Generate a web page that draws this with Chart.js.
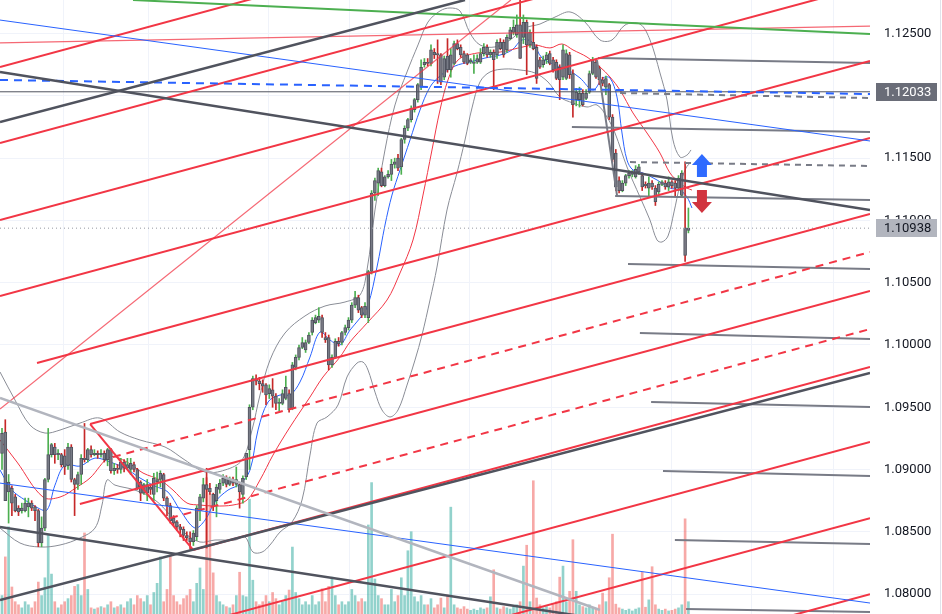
<!DOCTYPE html>
<html>
<head>
<meta charset="utf-8">
<script src="https://cdn.jsdelivr.net/npm/chart.js@4.4.1/dist/chart.umd.min.js"></script>
<style>
  html, body { margin: 0; padding: 0; background: #ffffff; overflow: hidden; }
  #wrap { width: 942px; height: 614px; position: relative; }
</style>
</head>
<body>
<div id="wrap"><canvas id="chart" width="942" height="614"></canvas></div>
<script>
// candles: [open, high, low, close]
const ohlc = [
  [1.0913,1.0933,1.0900,1.0929],[1.0930,1.0940,1.0875,1.0875],[1.0882,1.0896,1.0857,1.0890],[1.0885,1.0887,1.0863,1.0873],
  [1.0878,1.0880,1.0866,1.0867],[1.0869,1.0871,1.0863,1.0866],[1.0867,1.0873,1.0865,1.0869],[1.0867,1.0877,1.0866,1.0873],
  [1.0870,1.0877,1.0862,1.0873],[1.0873,1.0875,1.0867,1.0869],[1.0870,1.0871,1.0859,1.0867],[1.0867,1.0868,1.0838,1.0841],
  [1.0841,1.0862,1.0838,1.0853],[1.0853,1.0893,1.0851,1.0892],[1.0892,1.0933,1.0890,1.0912],[1.0912,1.0921,1.0910,1.0920],
  [1.0918,1.0921,1.0905,1.0912],[1.0912,1.0916,1.0908,1.0913],[1.0912,1.0913,1.0902,1.0904],[1.0911,1.0916,1.0896,1.0902],
  [1.0903,1.0921,1.0900,1.0918],[1.0918,1.0920,1.0890,1.0892],[1.0892,1.0893,1.0863,1.0888],[1.0888,1.0898,1.0884,1.0896],
  [1.0896,1.0912,1.0888,1.0909],[1.0909,1.0937,1.0906,1.0908],[1.0908,1.0917,1.0906,1.0916],[1.0916,1.0919,1.0910,1.0912],
  [1.0912,1.0916,1.0911,1.0913],[1.0913,1.0915,1.0909,1.0912],[1.0912,1.0916,1.0910,1.0913],[1.0913,1.0915,1.0906,1.0908],
  [1.0908,1.0917,1.0903,1.0916],[1.0916,1.0917,1.0897,1.0899],[1.0899,1.0905,1.0896,1.0901],[1.0901,1.0904,1.0897,1.0900],
  [1.0900,1.0909,1.0897,1.0906],[1.0906,1.0908,1.0898,1.0901],[1.0901,1.0909,1.0900,1.0904],[1.0900,1.0909,1.0896,1.0905],
  [1.0904,1.0906,1.0898,1.0900],[1.0900,1.0901,1.0884,1.0885],[1.0890,1.0891,1.0875,1.0881],[1.0881,1.0889,1.0880,1.0888],
  [1.0881,1.0892,1.0875,1.0888],[1.0886,1.0888,1.0880,1.0884],[1.0880,1.0897,1.0875,1.0893],[1.0890,1.0898,1.0882,1.0892],
  [1.0892,1.0899,1.0886,1.0897],[1.0896,1.0897,1.0875,1.0877],[1.0877,1.0878,1.0863,1.0871],[1.0871,1.0873,1.0857,1.0859],
  [1.0861,1.0863,1.0855,1.0857],[1.0858,1.0859,1.0851,1.0854],[1.0854,1.0856,1.0846,1.0852],[1.0852,1.0854,1.0843,1.0847],
  [1.0847,1.0850,1.0843,1.0845],[1.0845,1.0850,1.0836,1.0842],[1.0842,1.0851,1.0839,1.0849],[1.0846,1.0871,1.0843,1.0869],
  [1.0867,1.0880,1.0859,1.0878],[1.0877,1.0893,1.0874,1.0888],[1.0888,1.0901,1.0837,1.0884],[1.0885,1.0889,1.0880,1.0882],
  [1.0880,1.0881,1.0867,1.0870],[1.0875,1.0888,1.0862,1.0886],[1.0884,1.0892,1.0881,1.0889],[1.0889,1.0896,1.0887,1.0893],
  [1.0893,1.0895,1.0886,1.0888],[1.0888,1.0894,1.0887,1.0892],[1.0892,1.0894,1.0887,1.0889],[1.0888,1.0902,1.0886,1.0892],
  [1.0888,1.0889,1.0869,1.0882],[1.0880,1.0895,1.0873,1.0893],[1.0894,1.0913,1.0892,1.0913],[1.0916,1.0952,1.0900,1.0950],
  [1.0950,1.0975,1.0948,1.0973],[1.0973,1.0976,1.0968,1.0971],[1.0971,1.0974,1.0964,1.0969],[1.0969,1.0972,1.0962,1.0967],
  [1.0968,1.0969,1.0952,1.0960],[1.0961,1.0968,1.0957,1.0965],[1.0964,1.0973,1.0950,1.0959],[1.0959,1.0961,1.0948,1.0953],
  [1.0953,1.0957,1.0947,1.0954],[1.0953,1.0964,1.0952,1.0961],[1.0957,1.0975,1.0956,1.0966],[1.0961,1.0964,1.0946,1.0948],
  [1.0949,1.0986,1.0948,1.0984],[1.0982,1.0992,1.0980,1.0990],[1.0990,1.1000,1.0988,1.0998],[1.0998,1.1006,1.0997,1.1002],
  [1.0996,1.1004,1.0994,1.1002],[1.1002,1.1010,1.1001,1.1008],[1.1010,1.1022,1.1008,1.1020],[1.1018,1.1024,1.1017,1.1022],
  [1.1020,1.1030,1.1018,1.1023],[1.1022,1.1024,1.1006,1.1010],[1.1006,1.1010,1.1002,1.1004],[1.1006,1.1008,1.0980,1.0984],
  [1.0984,1.0992,1.0982,1.0990],[1.0990,1.1005,1.0989,1.1003],[1.1003,1.1006,1.0999,1.1001],[1.1002,1.1011,1.1000,1.1010],
  [1.1010,1.1016,1.1008,1.1014],[1.1014,1.1022,1.1012,1.1020],[1.1020,1.1034,1.1018,1.1032],[1.1032,1.1043,1.1030,1.1038],
  [1.1038,1.1040,1.1026,1.1028],[1.1030,1.1031,1.1022,1.1024],[1.1024,1.1034,1.1022,1.1031],[1.1022,1.1060,1.1018,1.1059],
  [1.1059,1.1124,1.1057,1.1122],[1.1122,1.1134,1.1116,1.1132],[1.1130,1.1142,1.1120,1.1140],[1.1139,1.1142,1.1127,1.1128],
  [1.1128,1.1136,1.1127,1.1135],[1.1135,1.1140,1.1134,1.1137],[1.1137,1.1149,1.1132,1.1145],[1.1145,1.1150,1.1142,1.1147],
  [1.1150,1.1153,1.1140,1.1142],[1.1143,1.1166,1.1137,1.1165],[1.1165,1.1176,1.1162,1.1174],[1.1174,1.1182,1.1172,1.1181],
  [1.1181,1.1192,1.1179,1.1190],[1.1189,1.1198,1.1187,1.1197],[1.1197,1.1210,1.1195,1.1209],[1.1207,1.1229,1.1205,1.1223],
  [1.1225,1.1230,1.1223,1.1227],[1.1227,1.1230,1.1224,1.1226],[1.1226,1.1241,1.1224,1.1237],[1.1235,1.1238,1.1230,1.1233],
  [1.1234,1.1245,1.1210,1.1233],[1.1233,1.1234,1.1209,1.1211],[1.1215,1.1232,1.1213,1.1230],[1.1232,1.1246,1.1219,1.1221],
  [1.1221,1.1238,1.1215,1.1233],[1.1226,1.1244,1.1225,1.1242],[1.1242,1.1245,1.1237,1.1238],[1.1239,1.1241,1.1231,1.1233],
  [1.1234,1.1236,1.1226,1.1227],[1.1233,1.1234,1.1225,1.1226],[1.1227,1.1230,1.1226,1.1229],[1.1226,1.1233,1.1218,1.1227],
  [1.1227,1.1233,1.1226,1.1230],[1.1227,1.1238,1.1226,1.1234],[1.1234,1.1242,1.1232,1.1239],[1.1239,1.1241,1.1231,1.1233],
  [1.1233,1.1237,1.1231,1.1235],[1.1235,1.1237,1.1205,1.1229],[1.1233,1.1245,1.1230,1.1243],[1.1243,1.1246,1.1237,1.1238],
  [1.1243,1.1245,1.1231,1.1233],[1.1237,1.1249,1.1235,1.1247],[1.1246,1.1255,1.1245,1.1253],[1.1251,1.1261,1.1249,1.1255],
  [1.1249,1.1265,1.1247,1.1257],[1.1257,1.1277,1.1230,1.1230],[1.1247,1.1265,1.1242,1.1259],[1.1259,1.1261,1.1217,1.1241],
  [1.1241,1.1253,1.1239,1.1251],[1.1243,1.1259,1.1237,1.1238],[1.1239,1.1241,1.1210,1.1214],[1.1229,1.1231,1.1222,1.1223],
  [1.1225,1.1232,1.1223,1.1229],[1.1229,1.1235,1.1226,1.1233],[1.1234,1.1236,1.1225,1.1226],[1.1229,1.1231,1.1219,1.1221],
  [1.1227,1.1229,1.1213,1.1214],[1.1223,1.1225,1.1197,1.1213],[1.1215,1.1241,1.1213,1.1237],[1.1214,1.1237,1.1213,1.1234],
  [1.1233,1.1235,1.1214,1.1217],[1.1218,1.1221,1.1183,1.1193],[1.1197,1.1206,1.1192,1.1203],[1.1197,1.1207,1.1191,1.1202],
  [1.1202,1.1205,1.1192,1.1193],[1.1198,1.1205,1.1197,1.1202],[1.1203,1.1220,1.1202,1.1218],[1.1218,1.1231,1.1217,1.1229],
  [1.1227,1.1229,1.1214,1.1215],[1.1222,1.1224,1.1209,1.1213],[1.1213,1.1215,1.1208,1.1210],[1.1207,1.1216,1.1201,1.1214],
  [1.1209,1.1210,1.1181,1.1183],[1.1183,1.1185,1.1147,1.1149],[1.1154,1.1157,1.1124,1.1127],[1.1132,1.1135,1.1122,1.1124],
  [1.1124,1.1132,1.1123,1.1130],[1.1130,1.1137,1.1128,1.1136],[1.1136,1.1140,1.1134,1.1138],[1.1137,1.1140,1.1135,1.1139],
  [1.1135,1.1144,1.1134,1.1141],[1.1139,1.1145,1.1137,1.1143],[1.1136,1.1138,1.1124,1.1127],[1.1129,1.1131,1.1126,1.1128],
  [1.1126,1.1135,1.1119,1.1130],[1.1130,1.1132,1.1125,1.1127],[1.1126,1.1128,1.1112,1.1115],[1.1123,1.1131,1.1121,1.1129],
  [1.1129,1.1132,1.1128,1.1131],[1.1130,1.1132,1.1125,1.1127],[1.1127,1.1135,1.1124,1.1131],[1.1131,1.1132,1.1126,1.1128],
  [1.1130,1.1132,1.1119,1.1126],[1.1126,1.1136,1.1124,1.1134],[1.1120,1.1140,1.1119,1.1138],[1.1094,1.1147,1.1067,1.1072],
  [1.1092,1.1110,1.1090,1.10938]
];

const volume = [
  3,9.3,14.2,4.4,2,1.5,1,2,1.5,1,2,5.2,3,5.9,12.9,6.5,2,1,1.5,2,2.5,3,4.5,4.8,3,13.2,4,1,0.8,1,
  1.2,1,1.5,2,1,1.2,1.5,1,2,2.5,1.5,3,2.5,2,3,1.5,3.5,5,9.3,2,4,9.6,3,2,1.5,2.5,3,4,2,5,
  7.5,4,22.2,19.6,6.7,3,2,1.5,1.2,1,1.5,3,6.8,3,2.8,18.7,5.5,2,1.5,2,3,2,3.5,2.5,1.5,2,3,3.9,10.9,3.5,
  2.5,1.5,2,1.5,3,1.5,2,4.1,2,4.5,6,3,1.5,2,1.5,2,4,3,2,2.5,2,14.5,21.4,5.7,3,2.5,1.5,1.5,4,2,
  3,5.9,3,10.3,13.4,2.8,2,3,1.5,1.5,2.5,1,1.5,2.6,1,3.1,17.4,1.5,1,0.8,1.2,0.8,0.6,0.8,0.6,1,0.8,1,2.8,7.2,
  1,0.8,1.2,1,0.8,1.2,1.5,2,7.8,11.2,2,21.7,2.6,1.5,1,1.2,1,1.5,2,6,7.8,2,3.7,12.1,3.7,1.5,1.2,1,1.5,1,
  0.8,1.5,3.4,2,5.9,13,1.6,1,0.8,0.6,0.8,0.5,0.8,1,6.8,1.1,2.3,7.7,1.5,0.8,0.6,0.8,0.5,0.6,0.8,1,1.5,15.5,2
];

// indicator curves: [bar index, price]
const upperBand = [
  [-0.6,1.09783],[3.94,1.09558],[8.48,1.09357],[13.03,1.09293],[17.58,1.09317],[23.64,1.09373],[29.7,1.09413],
  [35.76,1.09301],[41.82,1.09237],[49.39,1.09181],[55.45,1.09076],[61.52,1.0898],[67.58,1.08996],[72.73,1.09076],
  [75.76,1.09317],[78.18,1.09598],[81.21,1.09879],[85.76,1.10096],[91.82,1.10233],[97.88,1.10313],[103.94,1.10345],
  [108.49,1.10401],[110.61,1.10602],[113.03,1.11084],[116.06,1.11566],[119.09,1.11927],[122.73,1.12192],
  [126.06,1.12409],[129.09,1.12593],[132.73,1.12682],[135.76,1.12706],[138.79,1.12682],[141.82,1.12505],
  [144.85,1.12409],[149.39,1.12393],[153.94,1.12449],[158.49,1.12545],[163.03,1.12577],[167.58,1.12633],
  [172.12,1.12674],[176.67,1.12593],[181.21,1.12449],[184.85,1.12449],[188.79,1.12569],[193.33,1.12577],
  [196.36,1.12449],[199.39,1.12184],[201.52,1.11967],[203.33,1.11646],[205.45,1.11509],[207.58,1.11525],[208.79,1.11566]
];
const lowerBand = [
  [-0.6,1.0853],[5.45,1.0841],[11.52,1.08378],[17.58,1.08394],[23.64,1.0845],[28.18,1.0853],[30.3,1.08715],
  [31.82,1.08916],[34.24,1.08875],[40.3,1.08835],[46.36,1.08755],[50.91,1.08635],[55.45,1.0849],[60,1.08418],
  [64.55,1.08434],[70.61,1.08434],[73.64,1.08458],[76.06,1.08337],[78.79,1.08337],[81.21,1.08394],[84.24,1.08498],
  [87.88,1.08578],[90.91,1.08755],[93.33,1.09116],[95.45,1.09373],[98.48,1.09422],[101.82,1.09518],[104.55,1.09743],
  [107.58,1.09855],[109.39,1.09863],[110.91,1.09799],[113.03,1.09622],[115.15,1.09478],[117.58,1.09422],[120,1.09478],
  [122.73,1.09678],[125.15,1.09879],[127.27,1.1008],[129.7,1.10361],[131.82,1.10626],[134.85,1.11084],[137.88,1.11381],
  [140.3,1.11646],[142.42,1.11903],[144.85,1.12112],[147.88,1.12192],[152.42,1.12216],[156.97,1.12208],[161.52,1.12184],
  [165.45,1.12112],[169.09,1.11991],[173.03,1.11943],[177.27,1.11911],[180.3,1.11927],[183.33,1.1183],[185.76,1.11702],
  [189.39,1.11429],[193.33,1.11188],[196.36,1.11003],[198.48,1.10843],[200,1.10827],[201.82,1.10875],[203.64,1.11068],
  [205.45,1.11284],[207.27,1.11421],[208.79,1.11469]
];
const fastMa = [
  [-0.6,1.08996],[3.03,1.08835],[6.97,1.08755],[10.91,1.08691],[13.64,1.08675],[16.06,1.08875],[19.09,1.09036],
  [23.64,1.09028],[28.18,1.09092],[32.73,1.0906],[37.27,1.09012],[41.82,1.08932],[46.36,1.08867],[50.3,1.08819],
  [53.94,1.08675],[58.48,1.0853],[61.52,1.08594],[64.55,1.08739],[68.48,1.08835],[72.12,1.08883],[75.15,1.08996],
  [77.58,1.09317],[80.61,1.09542],[84.24,1.09598],[87.27,1.09598],[90.3,1.09703],[93.33,1.09903],[96.36,1.10104],
  [99.39,1.1004],[102.42,1.1],[105.45,1.1012],[108.49,1.10216],[110.91,1.10321],[113.64,1.10626],[116.06,1.10963],
  [118.18,1.11204],[120.61,1.11405],[123.64,1.11646],[126.67,1.11887],[129.7,1.12071],[132.73,1.1216],[137.27,1.1224],
  [141.82,1.12272],[146.36,1.12304],[150.91,1.12328],[154.55,1.12369],[157.58,1.12449],[160.61,1.12433],[163.64,1.12304],
  [167.58,1.12248],[171.52,1.12208],[175.15,1.12144],[179.09,1.12047],[182.12,1.12144],[184.24,1.12144],[186.36,1.11991],
  [187.88,1.11702],[189.39,1.11485],[191.21,1.11405],[194.24,1.11381],[198.48,1.11325],[202.42,1.1126],[205.45,1.11244],
  [207.58,1.11188],[209.09,1.111]
];
const slowMa = [
  [-0.6,1.09237],[4.55,1.0906],[12.42,1.08779],[17.58,1.08779],[22.73,1.08859],[26.67,1.08932],[32.73,1.091],
  [37.88,1.0906],[42.73,1.08972],[47.88,1.08916],[51.82,1.08835],[56.06,1.08731],[60,1.08715],[64.55,1.08707],
  [70,1.08715],[74.24,1.08755],[78.18,1.08916],[82.12,1.09116],[87.27,1.09341],[93.33,1.09582],[97.27,1.09743],
  [102.42,1.09903],[105.45,1.10024],[110.61,1.10176],[116.67,1.10361],[120.61,1.10578],[124.55,1.10843],[127.58,1.11204],
  [130.3,1.11566],[132.73,1.11887],[135.15,1.12128],[138.18,1.12288],[143.94,1.12344],[150.91,1.12352],[157.88,1.12393],
  [161.52,1.12409],[166.06,1.12385],[169.7,1.12417],[173.03,1.12369],[177.27,1.12312],[181.21,1.12232],[184.24,1.12152],
  [187.27,1.12047],[191.21,1.11863],[195.45,1.11702],[199.39,1.11541],[202.42,1.11381],[205.45,1.113],[207.58,1.1126],
  [209.09,1.11244]
];

// drawn trend lines, each [[bar, price], [bar, price]]
const redChannel = [
  [[-0.61,1.12232],[263.03,1.14119]], [[-0.61,1.11622],[263.03,1.13509]], [[-0.61,1.11003],[263.03,1.1289]],
  [[-0.61,1.10393],[263.03,1.1228]], [[10.6,1.09855],[263.03,1.11662]], [[26.7,1.09365],[263.03,1.11052]],
  [[23.6,1.08723],[263.03,1.10433]], [[57.9,1.08354],[263.03,1.09823]], [[-0.61,1.07334],[263.03,1.09221]],
  [[-0.61,1.06723],[263.03,1.0861]], [[-0.61,1.06113],[263.03,1.07998]], [[26.7,1.09365],[57.9,1.08354]]
];
const redDashed = [
  [[33.6,1.091],[263.03,1.10746]], [[50.9,1.0861],[263.03,1.10128]]
];
const redThin = [
  [[-0.61,1.09486],[154.2,1.1277]], [[-0.61,1.12425],[263.03,1.12561]]
];
const greenLine = [[[39.7,1.1277],[263.03,1.12497]]];
const blueThin = [
  [[-0.61,1.12609],[263.03,1.11638]], [[-0.61,1.08891],[263.03,1.07928]]
];
const blueDashed = [[[-0.61,1.12128],[263.03,1.12015]]];
const darkLines = [
  [[-0.61,1.1179],[140.3,1.1277]], [[-0.61,1.12192],[263.03,1.11084]],
  [[-0.61,1.08538],[181.2,1.078]], [[-0.61,1.07952],[263.03,1.09775]]
];
const lightLines = [[[-0.61,1.09574],[181.2,1.07872]]];
const grayLevels = [
  [[180.6,1.12304],[263.03,1.12264]], [[172.7,1.1175],[263.03,1.1171]], [[185.8,1.11196],[263.03,1.11164]],
  [[189.7,1.1065],[263.03,1.1061]], [[193.3,1.10096],[263.03,1.10048]], [[196.7,1.09542],[263.03,1.09502]],
  [[200.3,1.08988],[263.03,1.08948]], [[203.9,1.08434],[263.03,1.08402]], [[207.3,1.0788],[263.03,1.07856]],
  [[180.3,1.12288],[186.4,1.11196]]
];
const grayDashed = [
  [[187.3,1.12023],[263.03,1.11983]], [[190.3,1.11469],[263.03,1.11437]]
];
const levelPrice = 1.12033;
const lastPrice = 1.10938;
const signalUp = [212.1, 1.11437];
const signalDown = [212.1, 1.11156];

const priceTicks = [1.080, 1.085, 1.090, 1.095, 1.100, 1.105, 1.110, 1.115, 1.120, 1.125];
const gridBars = [18.5, 44.2, 80.6, 105.2, 141.5, 166.4, 202.7, 227.0, 251.8];

const colors = {
    up: '#4caf50',
    down: '#c62828',
    body: '#787b86',
    bodyEdge: '#50535e',
    volUp: 'rgba(38, 166, 154, 0.5)',
    volDown: 'rgba(239, 83, 80, 0.5)',
    red: '#f23645',
    green: '#4caf50',
    blue: '#2962ff',
    dark: '#50535e',
    gray: '#787b86',
    light: '#b2b5be',
    band: '#8a8d96',
    grid: '#f0f3fa',
    text: '#131722'
};

Chart.defaults.font.family = "Roboto, 'Liberation Sans', sans-serif";

const isUp = c => c[3] >= c[0];
const toPts = arr => arr.map(([x, y]) => ({ x, y }));

function lineSets(segments, color, width, dash) {
    return segments.map(seg => ({
        type: 'line',
        data: toPts(seg),
        borderColor: color,
        borderWidth: width,
        borderDash: dash || [],
        pointRadius: 0,
        tension: 0,
        order: 1
    }));
}

function curveSet(points, color) {
    return {
        type: 'line',
        data: toPts(points),
        borderColor: color,
        borderWidth: 1,
        pointRadius: 0,
        tension: 0.35,
        order: 4
    };
}

const xMin = -0.606, xMax = 263.03;

const datasets = [
    {
        type: 'bar',
        yAxisID: 'yv',
        data: volume.map((v, i) => ({ x: i, y: v })),
        backgroundColor: ohlc.map(c => isUp(c) ? colors.volUp : colors.volDown),
        barThickness: 2,
        grouped: false,
        order: 10
    },
    curveSet(upperBand, colors.band),
    curveSet(lowerBand, colors.band),
    curveSet(slowMa, colors.red),
    curveSet(fastMa, colors.blue),
    {
        type: 'bar',
        data: ohlc.map((c, i) => ({ x: i, y: [c[2], c[1]] })),
        backgroundColor: ohlc.map(c => isUp(c) ? colors.up : colors.down),
        barThickness: 1,
        grouped: false,
        order: 3
    },
    {
        type: 'bar',
        data: ohlc.map((c, i) => ({ x: i, y: [Math.min(c[0], c[3]), Math.max(c[0], c[3])] })),
        backgroundColor: colors.body,
        borderColor: colors.bodyEdge,
        borderWidth: 1,
        borderSkipped: false,
        barThickness: 3,
        grouped: false,
        order: 2
    },
    ...lineSets(lightLines, colors.light, 2.5),
    ...lineSets(darkLines, colors.dark, 2.5),
    ...lineSets(blueThin, colors.blue, 1),
    ...lineSets(blueDashed, colors.blue, 2, [8, 6]),
    ...lineSets(greenLine, colors.green, 2),
    ...lineSets(redThin, 'rgba(242, 54, 69, 0.75)', 1.2),
    ...lineSets(redChannel, colors.red, 2),
    ...lineSets(redDashed, colors.red, 2, [8, 6]),
    ...lineSets(grayLevels, colors.gray, 2),
    ...lineSets(grayDashed, colors.gray, 2, [6, 5]),
    ...lineSets([[[xMin, levelPrice], [xMax, levelPrice]]], colors.dark, 1),
    ...lineSets([[[xMin, lastPrice], [xMax, lastPrice]]], '#9598a1', 1, [1, 3])
];

// vertical time grid
const timeGrid = {
    id: 'timeGrid',
    beforeDatasetsDraw(chart) {
        const { ctx, chartArea, scales } = chart;
        ctx.save();
        ctx.strokeStyle = colors.grid;
        ctx.lineWidth = 1;
        gridBars.forEach(b => {
            const x = Math.round(scales.x.getPixelForValue(b)) + 0.5;
            ctx.beginPath();
            ctx.moveTo(x, chartArea.top);
            ctx.lineTo(x, chartArea.bottom);
            ctx.stroke();
        });
        ctx.restore();
    }
};

// arrows and price tags on the scale
const overlays = {
    id: 'overlays',
    afterDraw(chart) {
        const { ctx, chartArea, scales } = chart;
        ctx.save();

        const arrow = (pt, dir, color) => {
            const cx = scales.x.getPixelForValue(pt[0]);
            const cy = scales.y.getPixelForValue(pt[1]);
            ctx.fillStyle = color;
            ctx.beginPath();
            ctx.moveTo(cx, cy - dir * 12);
            ctx.lineTo(cx + 10, cy - dir * 1);
            ctx.lineTo(cx + 5, cy - dir * 1);
            ctx.lineTo(cx + 5, cy + dir * 11);
            ctx.lineTo(cx - 5, cy + dir * 11);
            ctx.lineTo(cx - 5, cy - dir * 1);
            ctx.lineTo(cx - 10, cy - dir * 1);
            ctx.closePath();
            ctx.fill();
        };
        arrow(signalUp, 1, '#2f6bff');
        arrow(signalDown, -1, '#d1343f');

        ctx.strokeStyle = '#e0e3eb';
        ctx.lineWidth = 1;
        ctx.beginPath();
        ctx.moveTo(940.5, 0);
        ctx.lineTo(940.5, chart.height);
        ctx.stroke();

        const tag = (price, bg, fg) => {
            const y = Math.round(scales.y.getPixelForValue(price));
            ctx.fillStyle = bg;
            ctx.fillRect(chartArea.right + 6, y - 9, 61, 18);
            ctx.fillStyle = fg;
            ctx.font = "13px Roboto, 'Liberation Sans', sans-serif";
            ctx.textBaseline = 'middle';
            ctx.textAlign = 'left';
            ctx.fillText(price.toFixed(5), chartArea.right + 14, y + 1);
        };
        tag(levelPrice, '#6a6d78', '#ffffff');
        tag(lastPrice, '#b2b5be', colors.text);
        ctx.restore();
    }
};

new Chart(document.getElementById('chart'), {
    type: 'bar',
    data: { datasets },
    options: {
        responsive: false,
        animation: false,
        devicePixelRatio: 1,
        events: [],
        layout: { padding: 0 },
        plugins: { legend: { display: false }, tooltip: { enabled: false } },
        scales: {
            x: { type: 'linear', min: xMin, max: xMax, offset: false, display: false },
            y: {
                position: 'right',
                min: 1.0784,
                max: 1.1277,
                afterBuildTicks: axis => { axis.ticks = priceTicks.map(v => ({ value: v })); },
                afterFit: axis => { axis.width = 72; axis.paddingTop = 0; axis.paddingBottom = 0; },
                grid: { color: colors.grid, drawTicks: false },
                border: { display: false },
                ticks: {
                    padding: 14,
                    color: colors.text,
                    font: { size: 13 },
                    callback: v => Number(v).toFixed(5)
                }
            },
            yv: { display: false, min: 0, max: 100 }
        }
    },
    plugins: [timeGrid, overlays]
});
</script>
</body>
</html>
